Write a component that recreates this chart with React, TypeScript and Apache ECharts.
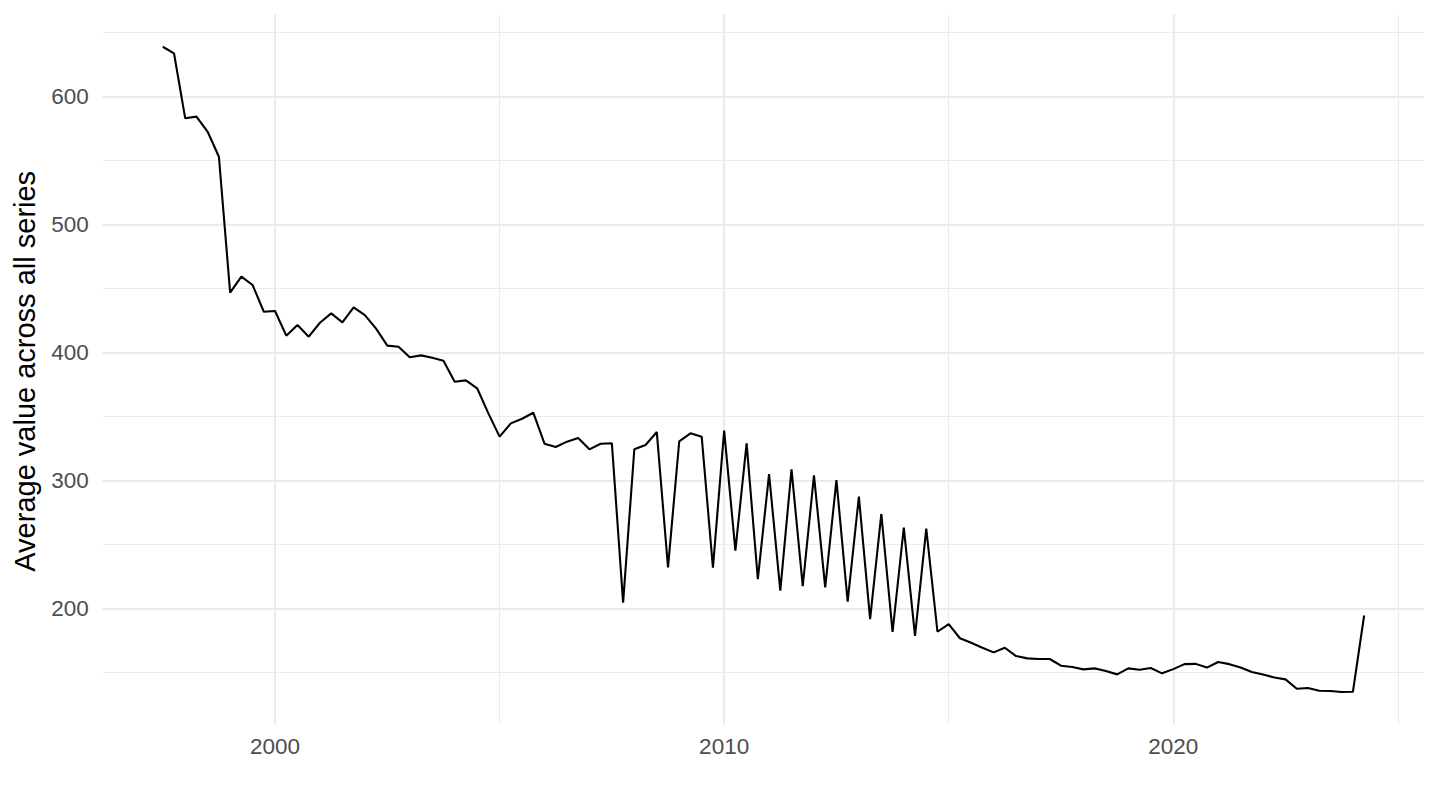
import React, { useEffect, useRef } from "react";
import * as echarts from "echarts";

// Quarterly periods (YYYY-MM, first month of quarter)
const periods: string[] = [
  "1997-07", "1997-10",
  "1998-01", "1998-04", "1998-07", "1998-10",
  "1999-01", "1999-04", "1999-07", "1999-10",
  "2000-01", "2000-04", "2000-07", "2000-10",
  "2001-01", "2001-04", "2001-07", "2001-10",
  "2002-01", "2002-04", "2002-07", "2002-10",
  "2003-01", "2003-04", "2003-07", "2003-10",
  "2004-01", "2004-04", "2004-07", "2004-10",
  "2005-01", "2005-04", "2005-07", "2005-10",
  "2006-01", "2006-04", "2006-07", "2006-10",
  "2007-01", "2007-04", "2007-07", "2007-10",
  "2008-01", "2008-04", "2008-07", "2008-10",
  "2009-01", "2009-04", "2009-07", "2009-10",
  "2010-01", "2010-04", "2010-07", "2010-10",
  "2011-01", "2011-04", "2011-07", "2011-10",
  "2012-01", "2012-04", "2012-07", "2012-10",
  "2013-01", "2013-04", "2013-07", "2013-10",
  "2014-01", "2014-04", "2014-07", "2014-10",
  "2015-01", "2015-04", "2015-07", "2015-10",
  "2016-01", "2016-04", "2016-07", "2016-10",
  "2017-01", "2017-04", "2017-07", "2017-10",
  "2018-01", "2018-04", "2018-07", "2018-10",
  "2019-01", "2019-04", "2019-07", "2019-10",
  "2020-01", "2020-04", "2020-07", "2020-10",
  "2021-01", "2021-04", "2021-07", "2021-10",
  "2022-01", "2022-04", "2022-07", "2022-10",
  "2023-01", "2023-04", "2023-07", "2023-10",
  "2024-01", "2024-04",
];

// Average value across all series
const averageValues: number[] = [
  638.7, 633.6,
  582.8, 584.1, 572.3, 552.8,
  446.6, 459.1, 452.6, 431.7,
  432.3, 413.0, 421.3, 412.2,
  423.1, 430.4, 423.4, 435.1,
  429.1, 418.5, 405.2, 404.4,
  396.1, 397.6, 395.8, 393.4,
  377.0, 378.1, 371.9, 352.3,
  334.1, 344.5, 348.1, 352.8,
  328.6, 326.0, 330.2, 333.0,
  324.2, 328.6, 328.9, 204.4,
  324.2, 327.6, 337.7, 232.0,
  330.5, 336.7, 334.1, 231.7,
  338.8, 245.0, 328.9, 222.8,
  304.9, 213.8, 308.6, 217.4,
  303.9, 216.4, 300.2, 205.2,
  287.2, 191.6, 273.7, 181.5,
  263.0, 178.4, 262.2, 181.7,
  187.7, 176.6, 173.1, 169.2,
  165.6, 169.2, 162.7, 160.9,
  160.4, 160.4, 155.2, 154.1,
  152.3, 153.1, 151.0, 148.4,
  153.1, 152.0, 153.4, 149.2,
  152.5, 156.4, 156.6, 153.7,
  158.1, 156.4, 153.7, 150.2,
  148.3, 146.0, 144.5, 137.2,
  137.7, 135.6, 135.4, 134.6,
  134.8, 194.4,
];

const xMajorTicks: number[] = [2000, 2010, 2020];
const xMinorGrid: number[] = [2005, 2015, 2025];
const yMajorTicks: number[] = [200, 300, 400, 500, 600];
const yMinorGrid: number[] = [150, 250, 350, 450, 550, 650];

const yTitle = "Average value across all series";

function toDecimalYear(p: string): number {
  const [y, m] = p.split("-").map(Number);
  return y + (m - 1) / 12;
}

export default function App() {
  const ref = useRef<HTMLDivElement>(null);

  useEffect(() => {
    if (!ref.current) return;
    const chart = echarts.init(ref.current, null, { renderer: "svg" });

    const xs = periods.map(toDecimalYear);
    const points = xs.map((x, i) => [x, averageValues[i]]);
    const xMinD = Math.min(...xs);
    const xMaxD = Math.max(...xs);
    const yMinD = Math.min(...averageValues);
    const yMaxD = Math.max(...averageValues);
    const xPad = (xMaxD - xMinD) * 0.05;
    const yPad = (yMaxD - yMinD) * 0.05;

    const font = "'Liberation Sans', Arial, Helvetica, sans-serif";
    const gridColor = "#EBEBEB";
    const major = { color: gridColor, width: 2.1, type: "solid" as const };
    const minor = { color: gridColor, width: 1.05, type: "solid" as const };

    const gridLines = [
      ...xMinorGrid.map((v) => ({ xAxis: v, lineStyle: minor })),
      ...yMinorGrid.map((v) => ({ yAxis: v, lineStyle: minor })),
      ...xMajorTicks.map((v) => ({ xAxis: v, lineStyle: major })),
      ...yMajorTicks.map((v) => ({ yAxis: v, lineStyle: major })),
    ];

    chart.setOption({
      animation: false,
      backgroundColor: "#FFFFFF",
      grid: {
        left: 102.7,
        right: 15.8,
        top: 14.5,
        bottom: 85.7,
        containLabel: false,
      },
      xAxis: {
        type: "value",
        min: xMinD - xPad,
        max: xMaxD + xPad,
        axisLine: { show: false },
        axisTick: { show: false, customValues: xMajorTicks },
        splitLine: { show: false },
        axisLabel: {
          customValues: xMajorTicks,
          color: "#4D4D4D",
          fontSize: 22.5,
          fontFamily: font,
          margin: 11,
          formatter: (v: number) => String(v),
        },
      },
      yAxis: {
        type: "value",
        min: yMinD - yPad,
        max: yMaxD + yPad,
        axisLine: { show: false },
        axisTick: { show: false, customValues: yMajorTicks },
        splitLine: { show: false },
        axisLabel: {
          customValues: yMajorTicks,
          color: "#4D4D4D",
          fontSize: 22.5,
          fontFamily: font,
          margin: 14,
          formatter: (v: number) => String(v),
        },
      },
      graphic: [
        {
          type: "text",
          x: 25,
          y: 371.3,
          rotation: Math.PI / 2,
          style: {
            text: yTitle,
            fill: "#000000",
            fontSize: 29,
            fontFamily: font,
            align: "center",
            verticalAlign: "middle",
          },
        },
      ],
      series: [
        {
          name: "grid",
          type: "line",
          data: points,
          z: 1,
          silent: true,
          showSymbol: false,
          lineStyle: { opacity: 0 },
          markLine: {
            silent: true,
            symbol: ["none", "none"],
            label: { show: false },
            z: 1,
            animation: false,
            data: gridLines,
          },
        },
        {
          name: "average",
          type: "line",
          data: points,
          z: 3,
          showSymbol: false,
          symbol: "none",
          lineStyle: { color: "#000000", width: 2.1 },
        },
      ],
    });

    return () => chart.dispose();
  }, []);

  return (
    <div
      ref={ref}
      style={{ position: "absolute", left: 0, top: 0, width: 1440, height: 810 }}
    />
  );
}
